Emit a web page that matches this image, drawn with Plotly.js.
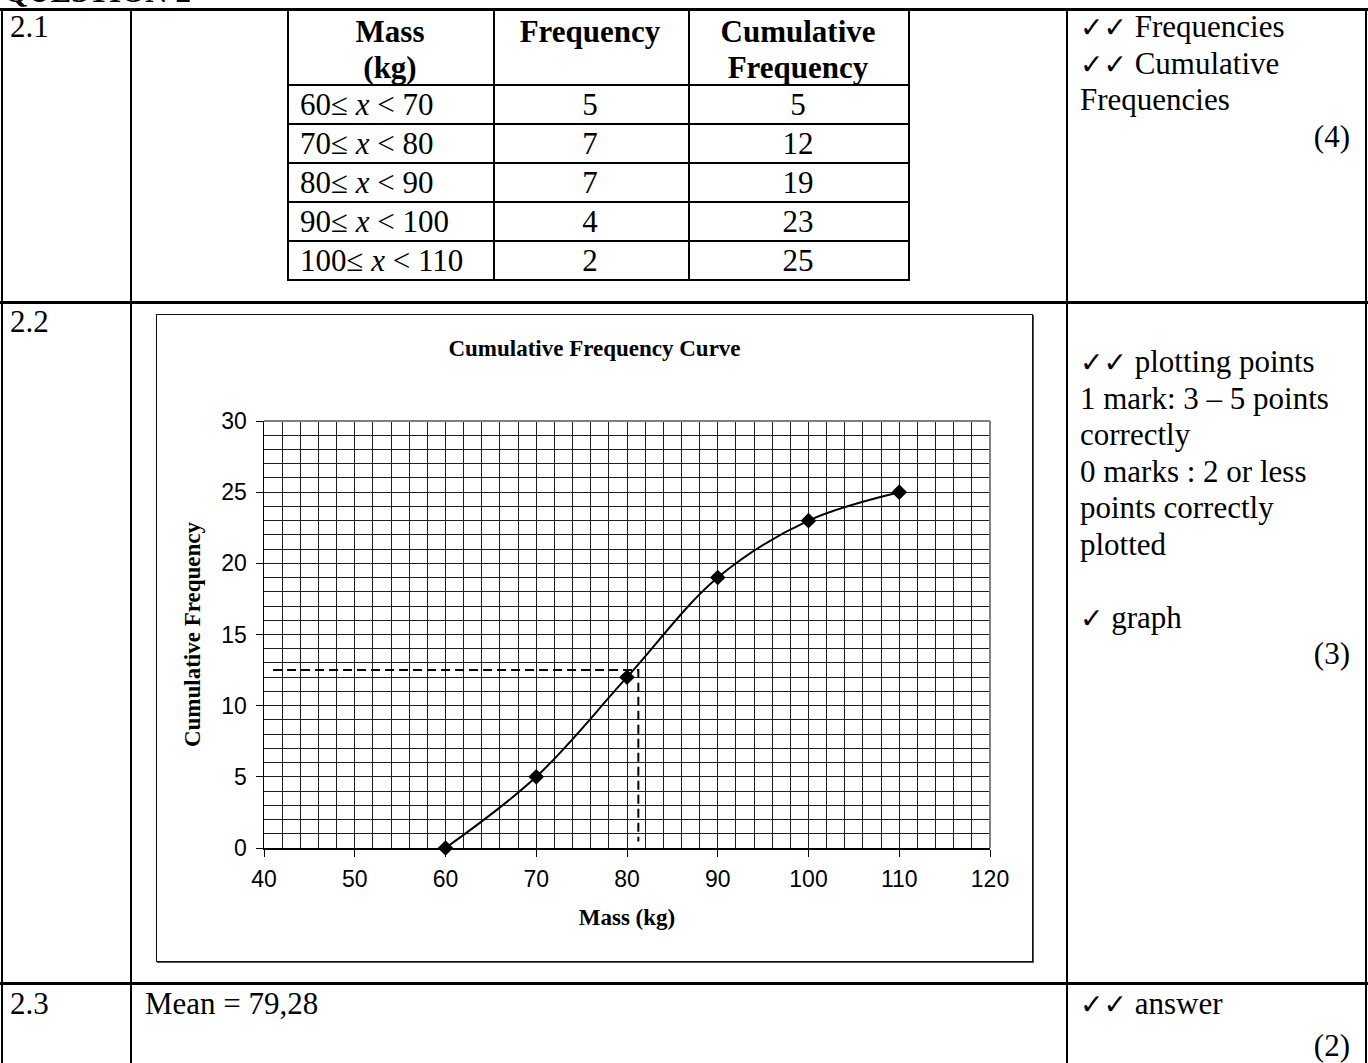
<!DOCTYPE html>
<html>
<head>
<meta charset="utf-8">
<script src="https://cdn.plot.ly/plotly-3.0.1.min.js"></script>
<style>
  html, body { margin:0; padding:0; background:#fff; }
  body { width:1368px; height:1063px; overflow:hidden; position:relative;
         font-family:'Liberation Serif','Times New Roman',serif; font-size:31px; color:#000; }
  #page { position:absolute; left:0; top:0; width:1368px; height:1063px; }
  .ln { position:absolute; background:#000; }
  .t { position:absolute; white-space:nowrap; line-height:36px; height:36px; }
  .ck { font-family:'DejaVu Sans',sans-serif; font-size:28px; }
  #chart { position:absolute; left:156px; top:314px; width:877px; height:648px; }
  #chartframe { position:absolute; left:156px; top:314px; width:877px; height:648px;
                box-sizing:border-box; border:1px solid #111; box-shadow:1px 1px 0 #555;
                pointer-events:none; }
</style>
</head>
<body>
<div id="page"></div>
<div id="chart"></div>
<div id="chartframe"></div>
<script>
// ---------- data ----------
const classLower = [60, 70, 80, 90, 100];
const classUpper = [70, 80, 90, 100, 110];
const frequencies = [5, 7, 7, 4, 2];
const cumulativeFreq = [5, 12, 19, 23, 25];

const massPoints = [60, 70, 80, 90, 100, 110];
const cumPoints = [0, 5, 12, 19, 23, 25];

const medianDashX = [41, 81.25, 81.25];
const medianDashY = [12.5, 12.5, 0.45];

const xTicks = [40, 50, 60, 70, 80, 90, 100, 110, 120];
const yTicks = [0, 5, 10, 15, 20, 25, 30];

// ---------- page (memo table) ----------
const page = document.getElementById('page');
function box(l, t, w, h) {
  const d = document.createElement('div');
  d.className = 'ln';
  d.style.cssText = `left:${l}px;top:${t}px;width:${w}px;height:${h}px`;
  page.appendChild(d);
}
function txt(html, x, cy, align, bold) {
  const d = document.createElement('div');
  d.className = 't';
  d.innerHTML = html;
  d.style.top = (cy - 18) + 'px';
  if (align === 'center') { d.style.left = x + 'px'; d.style.transform = 'translateX(-50%)'; }
  else if (align === 'right') { d.style.right = (1368 - x) + 'px'; }
  else { d.style.left = x + 'px'; }
  if (bold) d.style.fontWeight = 'bold';
  page.appendChild(d);
}
const CK = '<span class="ck">✓</span>';

// heading (cut off at top)
const q = document.createElement('div');
q.className = 't';
q.style.cssText = 'left:4px;top:-26px;font-weight:bold;';
q.textContent = 'QUESTION 2';
page.appendChild(q);

// outer grid
box(0, 8, 1368, 3);
box(1, 8, 2, 1060);
box(130, 8, 2, 1060);
box(1066, 8, 2, 1060);
box(1365, 8, 2, 1060);
box(0, 301, 1368, 3);
box(0, 982, 1368, 3);

// row labels
txt('2.1', 10, 27, 'left');
txt('2.2', 10, 322, 'left');
txt('2.3', 10, 1004, 'left');

// inner frequency table
const colX = [287, 493, 688, 908];
const rowY = [9, 84, 123, 162, 201, 240, 279];
colX.forEach(x => box(x, 9, 2, 272));
rowY.slice(1).forEach(y => box(287, y, 623, 2));

txt('Mass', 390, 32, 'center', true);
txt('(kg)', 390, 68, 'center', true);
txt('Frequency', 590, 32, 'center', true);
txt('Cumulative', 798, 32, 'center', true);
txt('Frequency', 798, 68, 'center', true);
for (let i = 0; i < classLower.length; i++) {
  const cy = (rowY[i + 1] + rowY[i + 2]) / 2 + 1;
  txt(`${classLower[i]}≤ <i>x</i> &lt; ${classUpper[i]}`, 300, cy, 'left');
  txt(String(frequencies[i]), 590, cy, 'center');
  txt(String(cumulativeFreq[i]), 798, cy, 'center');
}

// right column, row 2.1
txt(CK + CK + ' Frequencies', 1080, 27, 'left');
txt(CK + CK + ' Cumulative', 1080, 63.5, 'left');
txt('Frequencies', 1080, 100, 'left');
txt('(4)', 1350, 136.5, 'right');

// right column, row 2.2
const r22 = [CK + CK + ' plotting points', '1 mark: 3 – 5 points', 'correctly',
             '0 marks : 2 or less', 'points correctly', 'plotted', '', CK + ' graph'];
r22.forEach((s, i) => { if (s) txt(s, 1080, 362 + i * 36.5, 'left'); });
txt('(3)', 1350, 362 + 8 * 36.5, 'right');

// row 2.3
txt('Mean = 79,28', 145, 1004, 'left');
txt(CK + CK + ' answer', 1080, 1004, 'left');
txt('(2)', 1350, 1046, 'right');

// ---------- chart ----------
const serif = 'Liberation Serif, Times New Roman, serif';
const sans = 'Liberation Sans, Arial, sans-serif';
const traces = [
  {
    x: medianDashX, y: medianDashY, type: 'scatter', mode: 'lines',
    line: { color: '#000', width: 2, dash: '9px,5px' }, hoverinfo: 'skip'
  },
  {
    x: massPoints, y: cumPoints, type: 'scatter', mode: 'lines+markers',
    line: { color: '#000', width: 2, shape: 'spline', smoothing: 1 },
    marker: { symbol: 'diamond', size: 12, color: '#000' },
    cliponaxis: false
  }
];
const gridCol = '#1f1f1f';
const layout = {
  width: 877, height: 648,
  margin: { l: 108, r: 43, t: 107, b: 114, pad: 0 },
  paper_bgcolor: 'rgba(0,0,0,0)', plot_bgcolor: '#fff',
  showlegend: false,
  title: {
    text: '<b>Cumulative Frequency Curve</b>',
    font: { family: serif, size: 23, color: '#000' },
    x: 0.5, xref: 'container', xanchor: 'center',
    y: 1 - 34 / 648, yref: 'container', yanchor: 'middle'
  },
  xaxis: {
    range: [40, 120], tickvals: xTicks, ticktext: xTicks.map(String),
    ticks: 'outside', ticklen: 7, tickwidth: 1, tickcolor: '#000',
    ticklabelstandoff: 3,
    showline: true, linecolor: '#000', linewidth: 1.5,
    showgrid: true, gridcolor: gridCol, gridwidth: 1, zeroline: false,
    minor: { dtick: 2, tick0: 40, showgrid: true, gridcolor: gridCol, gridwidth: 1, ticks: '' },
    tickfont: { family: sans, size: 23, color: '#000' },
    title: { text: '<b>Mass (kg)</b>', font: { family: serif, size: 23, color: '#000' }, standoff: 18 },
    automargin: false, fixedrange: true
  },
  yaxis: {
    range: [0, 30], tickvals: yTicks, ticktext: yTicks.map(String),
    ticks: 'outside', ticklen: 7, tickwidth: 1, tickcolor: '#000',
    ticklabelstandoff: 4,
    showline: true, linecolor: '#000', linewidth: 1.5,
    showgrid: true, gridcolor: gridCol, gridwidth: 1, zeroline: false,
    minor: { dtick: 1, tick0: 0, showgrid: true, gridcolor: gridCol, gridwidth: 1, ticks: '' },
    tickfont: { family: sans, size: 23, color: '#000' },
    title: { text: '<b>Cumulative Frequency</b>', font: { family: serif, size: 23, color: '#000' }, standoff: 14 },
    automargin: false, fixedrange: true
  },
  shapes: [
    { type: 'line', xref: 'paper', yref: 'paper', x0: 0, x1: 1, y0: 1, y1: 1,
      line: { color: '#808080', width: 2 }, layer: 'above' },
    { type: 'line', xref: 'paper', yref: 'paper', x0: 1, x1: 1, y0: 0, y1: 1,
      line: { color: '#808080', width: 2 }, layer: 'above' }
  ]
};
Plotly.newPlot('chart', traces, layout, { displayModeBar: false, staticPlot: true });
</script>
</body>
</html>
